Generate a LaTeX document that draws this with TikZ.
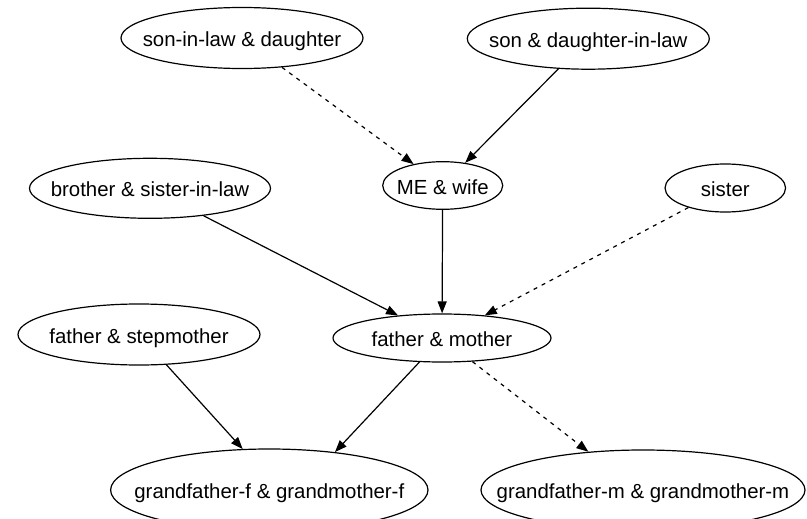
\documentclass[tikz,border=0pt]{standalone}
\usepackage{fontspec}
\setmainfont{Liberation Sans}
\usetikzlibrary{shapes.geometric,arrows.meta}
\tikzset{
  gnode/.style={ellipse, draw, line width=1.2pt, inner sep=0pt, text height=17pt, text depth=0pt, font=\fontsize{20.4}{24}\selectfont},
  gedge/.style={line width=1.2pt, -{Triangle[length=12pt,width=9pt]}},
  dedge/.style={gedge, dash pattern=on 4pt off 5pt},
}
\begin{document}
\begin{tikzpicture}[x=1pt,y=-1pt]
\useasboundingbox (0,0) rectangle (807,519);
\node[gnode, minimum width=242pt, minimum height=61pt] (sd) at (242,38) {\makebox[0pt]{son-in-law \& daughter}};
\node[gnode, minimum width=242pt, minimum height=61pt] (sdl) at (588.3,38.7) {\makebox[0pt]{son \& daughter-in-law}};
\node[gnode, minimum width=241pt, minimum height=60pt] (bro) at (150,188.3) {\makebox[0pt]{brother \& sister-in-law}};
\node[gnode, minimum width=120pt, minimum height=47.6pt] (me) at (442.7,185.5) {\makebox[0pt]{ME \& wife}};
\node[gnode, minimum width=120.6pt, minimum height=48pt] (sis) at (725.3,188) {\makebox[0pt]{sister}};
\node[gnode, minimum width=242pt, minimum height=61pt] (fsm) at (139,334.5) {\makebox[0pt]{father \& stepmother}};
\node[gnode, minimum width=218pt, minimum height=48pt] (fm) at (442,338) {\makebox[0pt]{father \& mother}};
\node[gnode, minimum width=317.4pt, minimum height=82pt] (gff) at (269.3,490) {\makebox[0pt]{grandfather-f \& grandmother-f}};
\node[gnode, minimum width=324pt, minimum height=80pt] (gfm) at (643,490) {\makebox[0pt]{grandfather-m \& grandmother-m}};
\draw[dedge] (sd) -- (me);
\draw[gedge] (sdl) -- (me);
\draw[gedge] (bro) -- (fm);
\draw[gedge] (me) -- (fm);
\draw[dedge] (sis) -- (fm);
\draw[gedge] (fsm) -- (gff.123);
\draw[gedge] (fm) -- (gff.30);
\draw[dedge] (fm) -- (gfm.145);
\end{tikzpicture}
\end{document}
